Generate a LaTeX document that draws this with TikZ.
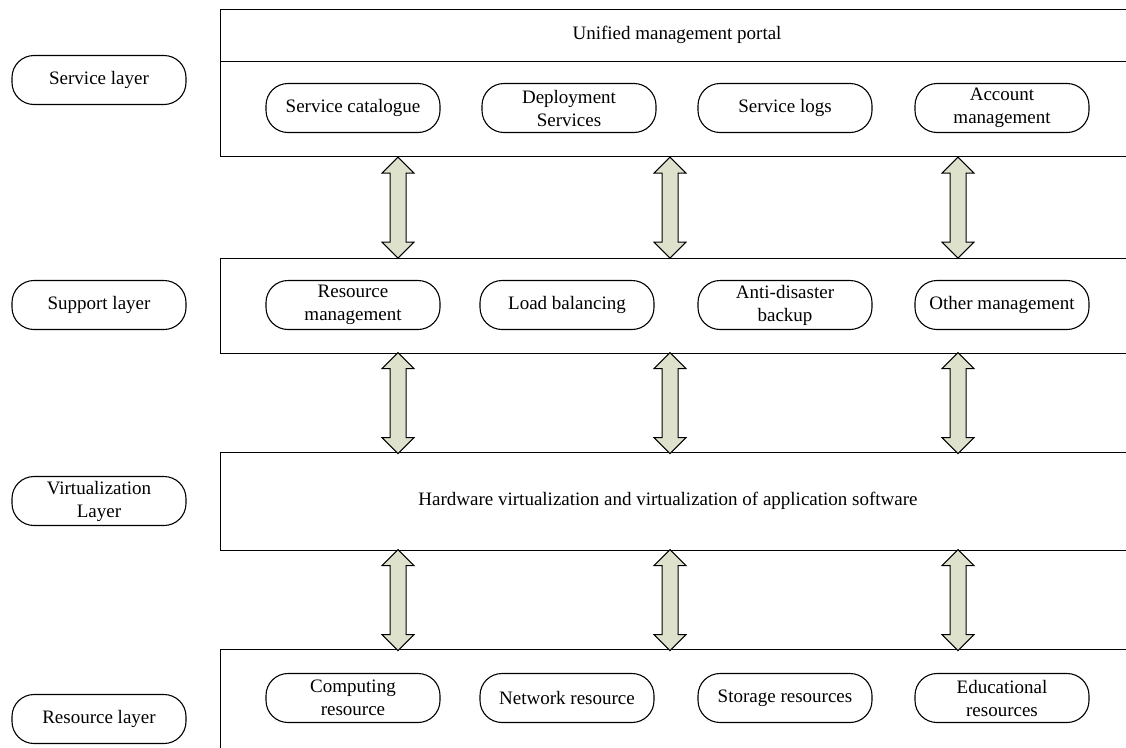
\documentclass[tikz,border=0pt]{standalone}
\usepackage{fontspec}
\setmainfont{Liberation Serif}
\usetikzlibrary{shapes,arrows}
\usepackage{xcolor}
\definecolor{arrowfill}{RGB}{222,226,204}

\begin{document}
\begin{tikzpicture}[x=1pt,y=-1pt]
      \tikzstyle{layer} = [rectangle, draw, line width=1.2pt, minimum width=915, anchor=north west, inner sep=0]
      \tikzstyle{tag} = [rectangle, rounded corners=22pt, draw, line width=1.1pt, minimum width=174, minimum height=49, align=center, inner sep=2pt, font=\fontsize{19}{23}\selectfont]
      \tikzstyle{caption} = [font=\fontsize{19}{23}\selectfont]
      \tikzstyle{dblarrow} = [double arrow, draw, line width=1pt, fill=arrowfill, rotate=90, minimum height=101, inner xsep=0, inner ysep=7.5pt, double arrow head extend=8, double arrow head indent=0]
      
      \useasboundingbox (0,0) rectangle (1126,747);
      
      % layers
      \node[layer, minimum height=52] (portal) at (220,9) {};
      \node[layer, minimum height=95] (sv) at (220,61) {};
      \node[layer, minimum height=95] (sp) at (220,258) {};
      \node[layer, minimum height=98] (vl) at (220,452) {};
      \node[layer, minimum height=110] (rs) at (220,649) {};
      
      \node[caption] (pt) at (677,35) {Unified management portal};
      \node[caption] (hv) at (668,501) {Hardware virtualization and virtualization of application software};
      
      % layer names
      \node[tag] (lsv) at (99,80) {Service layer};
      \node[tag] (lsp) at (99,305) {Support layer};
      \node[tag] (lvl) at (99,501) {Virtualization\\Layer};
      \node[tag] (lrs) at (99,719) {Resource layer};
      
      % service layer
      \node[tag] (sc) at (353,108) {Service catalogue};
      \node[tag] (ds) at (569,108) {Deployment\\Services};
      \node[tag] (sl) at (785,108) {Service logs};
      \node[tag] (am) at (1002,108) {Account\\management};
      
      % support layer
      \node[tag] (rm) at (353,305) {Resource\\management};
      \node[tag] (lb) at (567,305) {Load balancing};
      \node[tag] (ad) at (785,305) {Anti-disaster\\backup};
      \node[tag] (om) at (1002,305) {Other management};
      
      % resource layer
      \node[tag] (cr) at (353,698) {Computing\\resource};
      \node[tag] (nr) at (567,698) {Network resource};
      \node[tag] (sr) at (785,698) {Storage resources};
      \node[tag] (er) at (1002,698) {Educational\\resources};
      
      % arrows between layers
      \foreach \x in {398,670,958} {
        \path (sv.south -| \x,0) -- (sp.north -| \x,0) node[dblarrow, midway] {};
        \path (sp.south -| \x,0) -- (vl.north -| \x,0) node[dblarrow, midway] {};
        \path (vl.south -| \x,0) -- (rs.north -| \x,0) node[dblarrow, midway] {};
      }
    \end{tikzpicture}
\end{document}
